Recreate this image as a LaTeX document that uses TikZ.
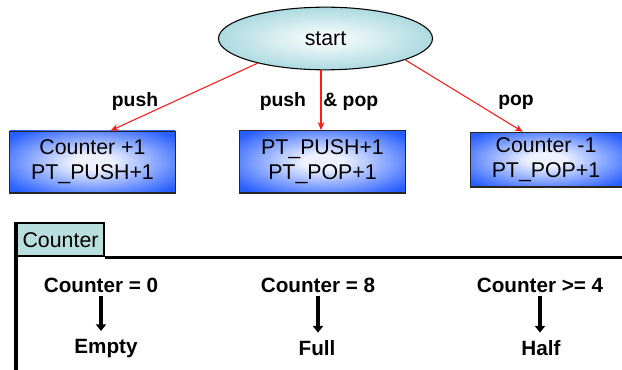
\documentclass[tikz,border=0pt]{standalone}
\usepackage{fontspec}
\setmainfont{Liberation Sans}
\usepackage{xcolor}
\usepackage{tikz}
\usetikzlibrary{arrows.meta,shapes,positioning}
\definecolor{startfill}{RGB}{172,218,224}
\definecolor{boxblue}{RGB}{40,95,255}
\definecolor{boxlight}{RGB}{238,242,255}
\definecolor{tabfill}{RGB}{184,222,222}
\definecolor{linkred}{RGB}{255,25,25}
\pgfdeclareradialshading{boxglow}{\pgfpoint{0bp}{0bp}}{color(0bp)=(boxlight); color(6bp)=(boxlight); color(32bp)=(boxblue); color(50bp)=(boxblue)}

\begin{document}
\begin{tikzpicture}[x=0.75pt,y=-0.75pt,>=Stealth,
  opbox/.style={draw=black!85,line width=0.6pt,shading=boxglow,align=center,font=\fontsize{16}{19}\selectfont},
  lbl/.style={font=\bfseries\fontsize{14.5}{17}\selectfont},
  cond/.style={font=\bfseries\fontsize{15.5}{18}\selectfont,inner sep=2pt},
  res/.style={font=\bfseries\fontsize{15.5}{18}\selectfont,inner sep=6pt},
  link/.style={-{Stealth[length=6pt,width=5pt]},linkred,line width=0.8pt},
  flow/.style={line width=3pt,-{Triangle[length=5pt,width=7.5pt]}}]
\useasboundingbox (0,0) rectangle (622,370);
\coordinate (rim) at (622,370);
\node[ellipse,draw,line width=0.8pt,inner color=white,outer color=startfill,minimum width=160.5pt,minimum height=47pt,font=\fontsize{16}{19}\selectfont] (st) at (325.5,38.5) {start};
\node[opbox,minimum width=124pt,minimum height=46.5pt] (inc) at (92.5,162) {Counter +1\\PT\_PUSH+1};
\node[opbox,minimum width=124.5pt,minimum height=46.5pt] (both) at (322.5,161.5) {PT\_PUSH+1\\PT\_POP+1};
\node[opbox,minimum width=114pt,minimum height=41pt] (dec) at (546,159.5) {Counter -1\\PT\_POP+1};
\draw[line width=1.5pt,black!85] (inc.south west)--(inc.south east)
(both.south west)--(both.south east)
(dec.south west)--(dec.south east);
\draw[link] (st.200) -- (inc.60);
\draw[link] (st.262) -- (st.262 |- both.north);
\draw[link] (st.-15) -- (dec.130);
\node[lbl] (lpush) at (135,102) {push};
\node[lbl] (lboth) at (319,102) {push\hspace{0.9em}\& pop};
\node[lbl] (lpop) at (516,102) {pop};
\node[draw,line width=1.8pt,fill=tabfill,anchor=north west,minimum width=65pt,minimum height=24.75pt,inner sep=1pt,font=\fontsize{16}{19}\selectfont] (tab) at (16,222) {Counter};
\draw[line width=2.8pt] (tab.north west) -- (tab.north west |- rim)
(tab.south east) -- (tab.south east -| rim);
\node[cond] (c0) at (101,285.5) {Counter = 0};
\node[cond] (c8) at (318,285.5) {Counter = 8};
\node[cond] (c4) at (540,285.5) {Counter >= 4};
\node[res] (e0) at (106,348.5) {Empty};
\node[res] (e8) at (317,348.5) {Full};
\node[res] (e4) at (541,348.5) {Half};
\draw[flow] (c0.south) -- (c0.south |- e0.north);
\draw[flow] (c8.south) -- (c8.south |- e8.north);
\draw[flow] (c4.south) -- (c4.south |- e4.north);
\end{tikzpicture}
\end{document}
